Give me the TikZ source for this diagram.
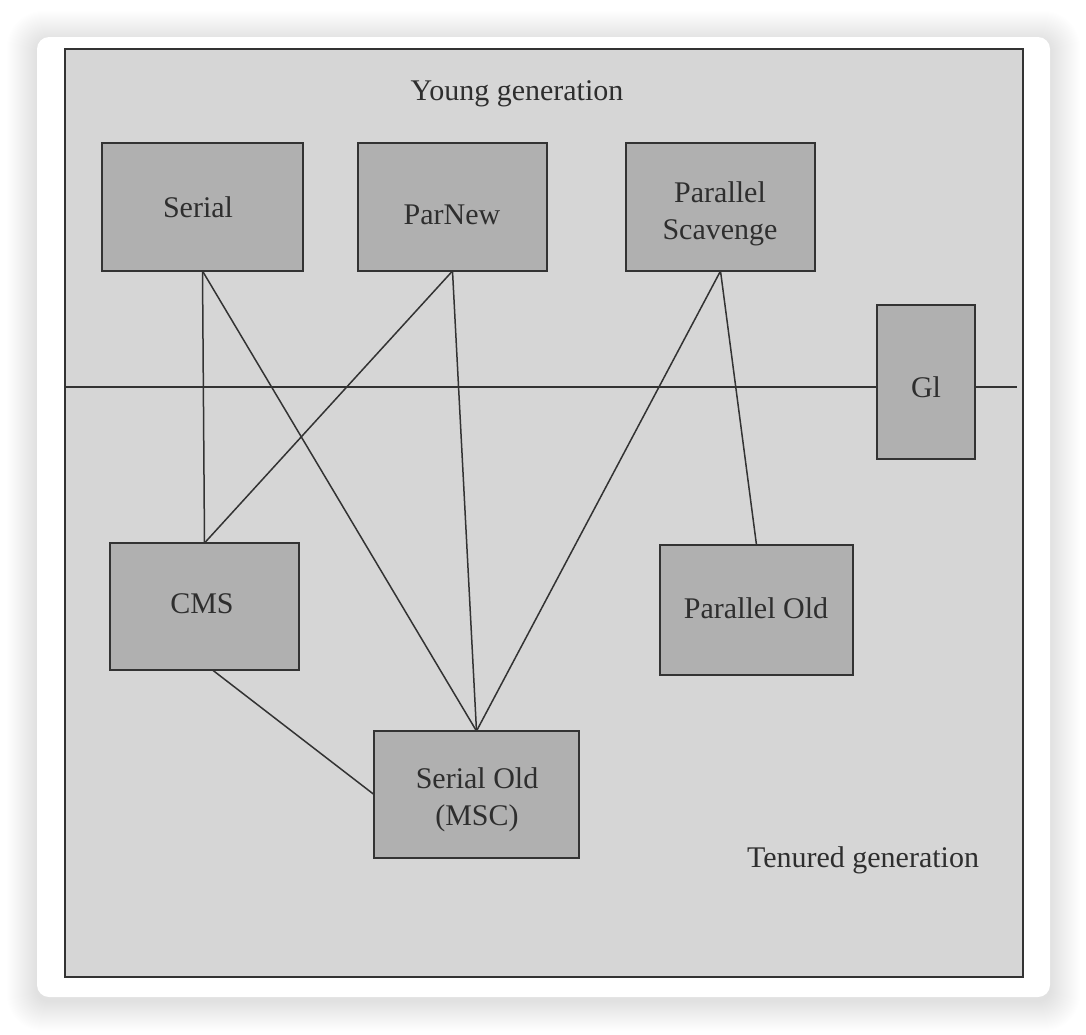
\documentclass[tikz,border=0pt]{standalone}
\usepackage{fontspec}
\setmainfont{Liberation Serif}
\definecolor{panelgray}{HTML}{D6D6D6}
\definecolor{boxgray}{HTML}{B0B0B0}
\definecolor{edgegray}{HTML}{333333}
\definecolor{inkgray}{HTML}{2E2E2E}
\begin{document}
\begin{tikzpicture}[x=1pt,y=-1pt,
  gcbox/.style={draw=edgegray, fill=boxgray, line width=2pt, inner sep=0pt, outer sep=0pt},
  label/.style={text=inkgray, font=\fontsize{30}{37}\selectfont, inner sep=0pt, align=center},
  link/.style={draw=edgegray, line width=1.5pt}]
\useasboundingbox (0,0) rectangle (1086,1034);
\fill[white] (0,0) rectangle (1086,1034);
% soft shadow of the card
\foreach \i in {1,...,30}{
  \fill[black, fill opacity=0.0055, rounded corners={12pt+\i*0.8pt}]
    (37-\i,37-\i+4) rectangle (1050+\i,997+\i+4);
}
% card
\fill[white, rounded corners=12pt] (37,37) rectangle (1050,997);
% panel
\path[fill=panelgray, draw=edgegray, line width=2pt] (64.5,48.5) rectangle (1022.5,977);
% texts
\node[label] (young) at (517,94) {Young generation};
\node[label] (tenured) at (863,860) {Tenured generation};
% divider line
\coordinate (divL) at (65,387);
\coordinate (divR) at (1017,387);
% boxes
\node[gcbox, minimum width=201pt, minimum height=128pt] (serial) at (202.5,207) {};
\node[gcbox, minimum width=189pt, minimum height=128pt] (parnew) at (452.5,207) {};
\node[gcbox, minimum width=189pt, minimum height=128pt] (ps) at (720.5,207) {};
\node[gcbox, minimum width=98pt, minimum height=154pt] (g1) at (926,382) {};
\node[gcbox, minimum width=189pt, minimum height=127pt] (cms) at (204.5,606.5) {};
\node[gcbox, minimum width=193pt, minimum height=130pt] (pold) at (756.5,610) {};
\node[gcbox, minimum width=205pt, minimum height=127pt] (sold) at (476.5,794.5) {};
% box texts
\node[label] (serialT) at (198,207) {Serial};
\node[label] (parnewT) at (452,215) {ParNew};
\node[label] (psT) at (720,214) {Parallel\\Scavenge};
\node[label] (g1T) at (926,387) {Gl};
\node[label] (cmsT) at (202,603.5) {CMS};
\node[label] (poldT) at (756,608) {Parallel Old};
\node[label] (soldT) at (477,799.5) {Serial Old\\(MSC)};
% connectors
\draw[link] (divL) -- (divL -| g1.west);
\draw[link] (divR -| g1.east) -- (divR);
\draw[link] (serial.south) -- (cms.north);
\draw[link] (serial.south) -- (sold.north);
\draw[link] (parnew.south) -- (cms.north);
\draw[link] (parnew.south) -- (sold.north);
\draw[link] (ps.south) -- (sold.north);
\draw[link] (ps.south) -- (pold.north);
\draw[link] ([xshift=8pt]cms.south) -- (sold.west);
\end{tikzpicture}
\end{document}
